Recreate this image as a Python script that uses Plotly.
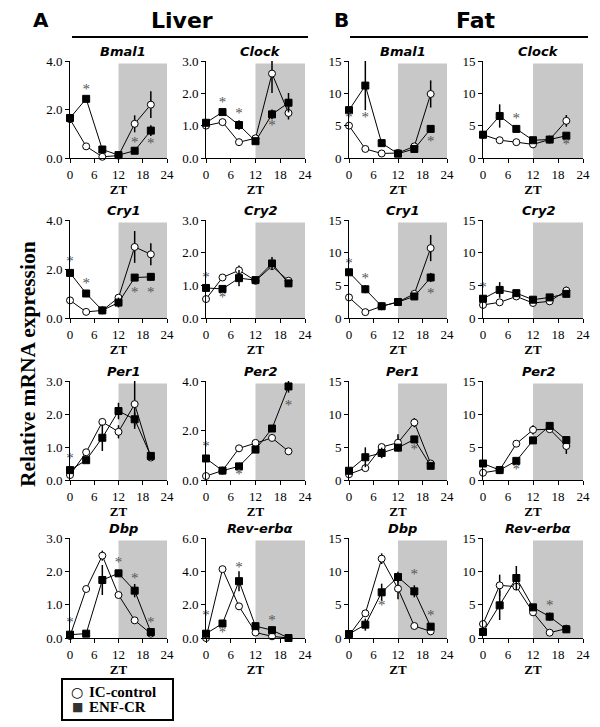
import plotly.graph_objects as go

zt = [0, 4, 8, 12, 16, 20]

# ---- Liver ----
liver_bmal1_ic = [1.60, 0.48, 0.05, 0.10, 1.41, 2.20]
liver_bmal1_ic_err = [0, 0, 0, 0, 0.35, 0.55]
liver_bmal1_cr = [1.65, 2.44, 0.35, 0.12, 0.30, 1.13]
liver_bmal1_cr_err = [0, 0.12, 0, 0, 0, 0.22]
liver_bmal1_star_x = [4, 16, 20]
liver_bmal1_star_y = [2.8, 0.6, 0.55]

liver_clock_ic = [1.00, 1.11, 0.49, 0.61, 2.61, 1.39]
liver_clock_ic_err = [0, 0, 0, 0, 0.6, 0.2]
liver_clock_cr = [1.09, 1.42, 1.02, 0.52, 1.35, 1.71]
liver_clock_cr_err = [0, 0, 0.15, 0, 0.15, 0.3]
liver_clock_star_x = [4, 8, 16]
liver_clock_star_y = [1.68, 1.35, 0.97]

liver_cry1_ic = [0.72, 0.25, 0.31, 0.83, 2.90, 2.60]
liver_cry1_ic_err = [0, 0, 0, 0, 0.65, 0.45]
liver_cry1_cr = [1.84, 1.00, 0.31, 0.63, 1.65, 1.68]
liver_cry1_cr_err = [0, 0, 0, 0.2, 0.12, 0.15]
liver_cry1_star_x = [0, 4, 16, 20]
liver_cry1_star_y = [2.29, 1.37, 1.02, 1.02]

liver_cry2_ic = [0.58, 1.24, 1.46, 1.14, 1.59, 1.14]
liver_cry2_ic_err = [0, 0, 0.15, 0, 0.1, 0]
liver_cry2_cr = [0.92, 0.89, 1.22, 1.16, 1.67, 1.06]
liver_cry2_cr_err = [0, 0, 0.25, 0, 0.2, 0]
liver_cry2_star_x = [0, 4]
liver_cry2_star_y = [1.22, 0.6]

liver_per1_ic = [0.15, 0.84, 1.76, 1.46, 2.30, 0.68]
liver_per1_ic_err = [0, 0, 0.1, 0.2, 0.75, 0]
liver_per1_cr = [0.30, 0.60, 1.28, 2.09, 1.84, 0.73]
liver_per1_cr_err = [0, 0, 0.4, 0.25, 0.2, 0]
liver_per1_star_x = [0]
liver_per1_star_y = [0.62]

liver_per2_ic = [0.16, 0.38, 1.28, 1.50, 1.70, 1.16]
liver_per2_ic_err = [0, 0, 0, 0, 0, 0]
liver_per2_cr = [0.87, 0.38, 0.55, 1.23, 2.08, 3.78]
liver_per2_cr_err = [0, 0, 0, 0, 0, 0.25]
liver_per2_star_x = [0, 8, 20]
liver_per2_star_y = [1.34, 0.2, 3.0]

liver_dbp_ic = [0.06, 1.47, 2.47, 1.29, 0.53, 0.13]
liver_dbp_ic_err = [0, 0, 0.15, 0, 0, 0]
liver_dbp_cr = [0.10, 0.13, 1.74, 1.94, 1.42, 0.18]
liver_dbp_cr_err = [0, 0, 0.45, 0.1, 0.2, 0]
liver_dbp_star_x = [0, 4, 12, 16, 20]
liver_dbp_star_y = [0.43, -0.05, 2.23, 1.77, 0.45]

liver_rev_ic = [0.0, 4.13, 1.90, 0.33, 0.10, 0.0]
liver_rev_ic_err = [0, 0.1, 0.15, 0, 0, 0]
liver_rev_cr = [0.26, 0.87, 3.41, 0.71, 0.47, 0.0]
liver_rev_cr_err = [0, 0, 0.6, 0, 0, 0]
liver_rev_star_x = [0, 4, 8, 16]
liver_rev_star_y = [1.28, 0.3, 4.17, 1.02]

# ---- Fat ----
fat_bmal1_ic = [5.0, 1.4, 0.7, 0.77, 1.8, 9.9]
fat_bmal1_ic_err = [0, 0, 0, 0, 0, 2.1]
fat_bmal1_cr = [7.4, 11.2, 2.3, 0.67, 1.4, 4.5]
fat_bmal1_cr_err = [0, 3.8, 0, 0, 0, 0.5]
fat_bmal1_star_x = [0, 4, 20]
fat_bmal1_star_y = [6.1, 6.1, 2.46]

fat_clock_ic = [3.6, 2.75, 2.45, 2.1, 2.85, 5.75]
fat_clock_ic_err = [0, 0, 0, 0, 0, 0.9]
fat_clock_cr = [3.6, 6.5, 4.5, 2.75, 2.85, 3.45]
fat_clock_cr_err = [0, 1.8, 0.4, 0, 0, 0]
fat_clock_star_x = [8, 20]
fat_clock_star_y = [5.95, 1.95]

fat_cry1_ic = [3.15, 0.9, 1.8, 2.45, 3.7, 10.7]
fat_cry1_ic_err = [0, 0, 0, 0, 0, 2.0]
fat_cry1_cr = [7.0, 4.4, 1.8, 2.45, 3.3, 6.2]
fat_cry1_cr_err = [0, 0.6, 0, 0, 0, 0.7]
fat_cry1_star_x = [0, 4, 20]
fat_cry1_star_y = [8.3, 5.95, 3.56]

fat_cry2_ic = [2.0, 2.4, 3.3, 2.3, 2.55, 4.2]
fat_cry2_ic_err = [0, 0, 0, 0, 0, 0.6]
fat_cry2_cr = [2.95, 4.3, 3.8, 2.8, 3.15, 3.7]
fat_cry2_cr_err = [0, 1.2, 0.3, 0, 0, 0.4]
fat_cry2_star_x = [0]
fat_cry2_star_y = [4.5]

fat_per1_ic = [0.87, 1.8, 5.0, 5.65, 8.7, 2.5]
fat_per1_ic_err = [0, 0, 0.3, 1.3, 0.7, 0]
fat_per1_cr = [1.4, 3.45, 4.1, 4.9, 6.15, 2.15]
fat_per1_cr_err = [0, 1.5, 0.8, 0.5, 0.5, 0]
fat_per1_star_x = [16]
fat_per1_star_y = [4.47]

fat_per2_ic = [1.1, 1.5, 5.5, 7.6, 7.7, 5.15]
fat_per2_ic_err = [0, 0, 0, 0.7, 0, 1.2]
fat_per2_cr = [2.5, 1.5, 2.9, 6.0, 8.2, 6.05]
fat_per2_cr_err = [0, 0, 0, 0, 0.4, 0.4]
fat_per2_star_x = [8]
fat_per2_star_y = [1.46]

fat_dbp_ic = [0.4, 3.7, 11.9, 7.4, 1.8, 1.0]
fat_dbp_ic_err = [0, 0.5, 0.8, 1.6, 0, 0]
fat_dbp_cr = [0.6, 2.0, 6.85, 9.15, 7.0, 1.7]
fat_dbp_cr_err = [0, 0.9, 1.3, 0.8, 0.9, 0]
fat_dbp_star_x = [8, 16, 20]
fat_dbp_star_y = [4.83, 9.4, 3.3]

fat_rev_ic = [2.1, 7.9, 7.7, 3.85, 0.8, 1.4]
fat_rev_ic_err = [0, 1.6, 0, 0, 0, 0]
fat_rev_cr = [0.9, 4.9, 9.0, 4.6, 3.2, 1.3]
fat_rev_cr_err = [0, 2.2, 1.8, 0.5, 0.6, 0]
fat_rev_star_x = [0, 16]
fat_rev_star_y = [-0.35, 4.73]

# (title, ic, ic_err, cr, cr_err, star_x, star_y, ymax, dtick, tickformat), row by row
panels = [
    ("Bmal1", liver_bmal1_ic, liver_bmal1_ic_err, liver_bmal1_cr, liver_bmal1_cr_err, liver_bmal1_star_x, liver_bmal1_star_y, 4, 2, ".1f"),
    ("Clock", liver_clock_ic, liver_clock_ic_err, liver_clock_cr, liver_clock_cr_err, liver_clock_star_x, liver_clock_star_y, 3, 1, ".1f"),
    ("Bmal1", fat_bmal1_ic, fat_bmal1_ic_err, fat_bmal1_cr, fat_bmal1_cr_err, fat_bmal1_star_x, fat_bmal1_star_y, 15, 5, "d"),
    ("Clock", fat_clock_ic, fat_clock_ic_err, fat_clock_cr, fat_clock_cr_err, fat_clock_star_x, fat_clock_star_y, 15, 5, "d"),
    ("Cry1", liver_cry1_ic, liver_cry1_ic_err, liver_cry1_cr, liver_cry1_cr_err, liver_cry1_star_x, liver_cry1_star_y, 4, 2, ".1f"),
    ("Cry2", liver_cry2_ic, liver_cry2_ic_err, liver_cry2_cr, liver_cry2_cr_err, liver_cry2_star_x, liver_cry2_star_y, 3, 1, ".1f"),
    ("Cry1", fat_cry1_ic, fat_cry1_ic_err, fat_cry1_cr, fat_cry1_cr_err, fat_cry1_star_x, fat_cry1_star_y, 15, 5, "d"),
    ("Cry2", fat_cry2_ic, fat_cry2_ic_err, fat_cry2_cr, fat_cry2_cr_err, fat_cry2_star_x, fat_cry2_star_y, 15, 5, "d"),
    ("Per1", liver_per1_ic, liver_per1_ic_err, liver_per1_cr, liver_per1_cr_err, liver_per1_star_x, liver_per1_star_y, 3, 1, ".1f"),
    ("Per2", liver_per2_ic, liver_per2_ic_err, liver_per2_cr, liver_per2_cr_err, liver_per2_star_x, liver_per2_star_y, 4, 2, ".1f"),
    ("Per1", fat_per1_ic, fat_per1_ic_err, fat_per1_cr, fat_per1_cr_err, fat_per1_star_x, fat_per1_star_y, 15, 5, "d"),
    ("Per2", fat_per2_ic, fat_per2_ic_err, fat_per2_cr, fat_per2_cr_err, fat_per2_star_x, fat_per2_star_y, 15, 5, "d"),
    ("Dbp", liver_dbp_ic, liver_dbp_ic_err, liver_dbp_cr, liver_dbp_cr_err, liver_dbp_star_x, liver_dbp_star_y, 3, 1, ".1f"),
    ("Rev-erb\u03b1", liver_rev_ic, liver_rev_ic_err, liver_rev_cr, liver_rev_cr_err, liver_rev_star_x, liver_rev_star_y, 6, 2, ".1f"),
    ("Dbp", fat_dbp_ic, fat_dbp_ic_err, fat_dbp_cr, fat_dbp_cr_err, fat_dbp_star_x, fat_dbp_star_y, 15, 5, "d"),
    ("Rev-erb\u03b1", fat_rev_ic, fat_rev_ic_err, fat_rev_cr, fat_rev_cr_err, fat_rev_star_x, fat_rev_star_y, 15, 5, "d"),
]

legend_names = ["IC-control", "ENF-CR"]
legend_symbols = ["\u25cb", "\u25a0"]

# page has an 8px body margin, so the figure is a bit smaller and shifted
OFF = 8
W, H = 600 - OFF, 727 - OFF


def px(x):
    return (x - OFF) / W


def py(y):
    return 1 - (y - OFF) / H


col_px = [(70, 167), (206, 305), (349, 447), (483, 583)]
row_px = [(61, 158), (220, 318), (381, 480), (538, 638)]
serif = "Liberation Serif"
sans = "DejaVu Sans"

fig = go.Figure()
shapes = []
annotations = []

for i, (title, ic, ic_err, cr, cr_err, sx, sy, ymax, dtick, fmt) in enumerate(panels):
    r, c = divmod(i, 4)
    k = i + 1
    xa = "x" if k == 1 else f"x{k}"
    ya = "y" if k == 1 else f"y{k}"
    xkey = "xaxis" if k == 1 else f"xaxis{k}"
    ykey = "yaxis" if k == 1 else f"yaxis{k}"

    fig.add_trace(go.Scatter(
        x=zt, y=ic, mode="lines+markers", name=legend_names[0], xaxis=xa, yaxis=ya,
        showlegend=False, cliponaxis=False,
        line=dict(color="black", width=1),
        marker=dict(symbol="circle", size=7, color="white", line=dict(color="black", width=1)),
        error_y=dict(type="data", array=ic_err, visible=True, thickness=1.5, width=0, color="black"),
    ))
    fig.add_trace(go.Scatter(
        x=zt, y=cr, mode="lines+markers", name=legend_names[1], xaxis=xa, yaxis=ya,
        showlegend=False, cliponaxis=False,
        line=dict(color="black", width=1),
        marker=dict(symbol="square", size=7, color="black", line=dict(color="black", width=1)),
        error_y=dict(type="data", array=cr_err, visible=True, thickness=1.5, width=0, color="black"),
    ))
    fig.add_trace(go.Scatter(
        x=sx, y=sy, mode="text", text=["*"] * len(sx), xaxis=xa, yaxis=ya, showlegend=False,
        cliponaxis=False, textposition="middle center",
        textfont=dict(family=serif, size=15, color="#555555"),
    ))

    x0, x1 = col_px[c]
    y0, y1 = row_px[r]
    fig.layout[xkey] = dict(
        domain=[px(x0), px(x1)], anchor=ya, range=[0, 24], tickvals=[0, 6, 12, 18, 24],
        ticks="outside", ticklen=4, tickcolor="black", showline=True, linecolor="black", linewidth=1,
        showgrid=False, zeroline=False, automargin=False,
        tickfont=dict(family=serif, size=13, color="black"),
        title=dict(text="<b>ZT</b>", font=dict(family=serif, size=13, color="black"), standoff=2),
    )
    fig.layout[ykey] = dict(
        domain=[py(y1), py(y0)], anchor=xa, range=[0, ymax], dtick=dtick, tickformat=fmt,
        ticks="outside", ticklen=4, tickcolor="black", showline=True, linecolor="black", linewidth=1,
        showgrid=False, zeroline=False, automargin=False,
        tickfont=dict(family=serif, size=13, color="black"),
    )
    shapes.append(dict(type="rect", xref=xa, yref=f"{ya} domain", x0=12, x1=24, y0=0, y1=0.975,
                       fillcolor="#c8c8c8", line=dict(width=0), layer="below"))
    annotations.append(dict(text=f"<b><i>{title}</i></b>", xref=f"{xa} domain", yref=f"{ya} domain",
                            x=0.55, y=1.0, xanchor="center", yanchor="bottom", showarrow=False,
                            font=dict(family=sans, size=13, color="black")))

# header texts and lines
head = dict(xref="paper", yref="paper", showarrow=False, xanchor="center", yanchor="middle")
annotations += [
    dict(text="<b>A</b>", x=px(41), y=py(20), font=dict(family=sans, size=20, color="black"), **head),
    dict(text="<b>Liver</b>", x=px(182), y=py(20), font=dict(family=sans, size=22, color="black"), **head),
    dict(text="<b>B</b>", x=px(341), y=py(20), font=dict(family=sans, size=20, color="black"), **head),
    dict(text="<b>Fat</b>", x=px(476), y=py(20), font=dict(family=sans, size=22, color="black"), **head),
    dict(text="<b>Relative mRNA expression</b>", x=px(28), y=py(364), textangle=-90,
         font=dict(family=serif, size=21.5, color="black"), **head),
]
shapes += [
    dict(type="line", xref="paper", yref="paper", x0=px(72), x1=px(308), y0=py(37), y1=py(37),
         line=dict(color="black", width=2)),
    dict(type="line", xref="paper", yref="paper", x0=px(350), x1=px(588), y0=py(37), y1=py(37),
         line=dict(color="black", width=2)),
]

# boxed key at bottom left
shapes.append(dict(type="rect", xref="paper", yref="paper", x0=px(62), x1=px(173), y0=py(720), y1=py(679),
                   line=dict(color="black", width=2), fillcolor="white"))
for j, (sym, name) in enumerate(zip(legend_symbols, legend_names)):
    yy = py(692 + 15 * j)
    annotations.append(dict(text=sym, x=px(77), y=yy, xref="paper", yref="paper", showarrow=False,
                            xanchor="center", yanchor="middle",
                            font=dict(family=sans, size=14 if j == 0 else 12,
                                      color="black" if j == 0 else "#333333")))
    annotations.append(dict(text=f"<b>{name}</b>", x=px(87), y=yy, xref="paper", yref="paper",
                            showarrow=False, xanchor="left", yanchor="middle",
                            font=dict(family=serif, size=15, color="black")))

fig.update_layout(
    template="none",
    width=W, height=H, margin=dict(l=0, r=0, t=0, b=0, pad=0, autoexpand=False),
    paper_bgcolor="white", plot_bgcolor="white",
    font=dict(family=serif, color="black"),
    shapes=shapes, annotations=annotations,
    showlegend=False,
)

fig.write_html("out.html")
